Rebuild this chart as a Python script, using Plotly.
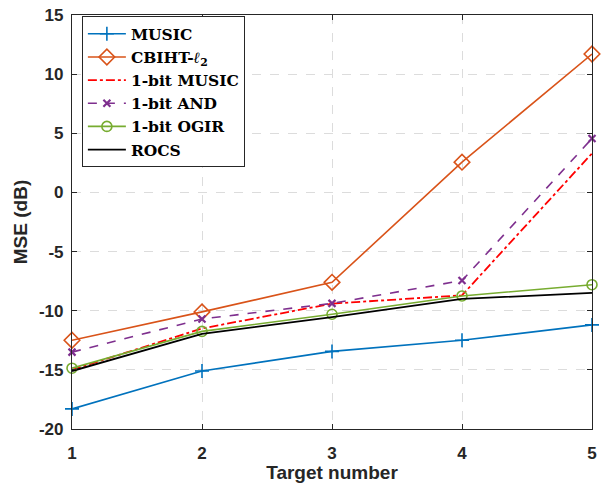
import plotly.graph_objects as go

x = [1, 2, 3, 4, 5]
music = [-18.3, -15.1, -13.44, -12.5, -11.2]
cbiht = [-12.5, -10.1, -7.6, 2.56, 11.7]
onebit_music = [-15.0, -11.5, -9.4, -8.7, 3.3]
onebit_and = [-13.5, -10.7, -9.38, -7.45, 4.56]
onebit_ogir = [-14.86, -11.75, -10.3, -8.75, -7.8]
rocs = [-15.1, -11.95, -10.55, -9.0, -8.5]

x_ticks = [1, 2, 3, 4, 5]
y_ticks = [-20, -15, -10, -5, 0, 5, 10, 15]

fig = go.Figure()
fig.add_trace(go.Scatter(x=x, y=music, name="MUSIC", mode="lines+markers",
                         line=dict(color="#0072BD", width=1.6),
                         marker=dict(symbol="cross-thin", size=10, line=dict(color="#0072BD", width=1.6))))
fig.add_trace(go.Scatter(x=x, y=cbiht, name="CBIHT-<i>ℓ</i><sub>2</sub>", mode="lines+markers",
                         line=dict(color="#D95319", width=1.6),
                         marker=dict(symbol="diamond-open", size=12, line=dict(color="#D95319", width=1.6))))
fig.add_trace(go.Scatter(x=x, y=onebit_music, name="1-bit MUSIC", mode="lines",
                         line=dict(color="#FF0000", width=1.8, dash="dashdot")))
fig.add_trace(go.Scatter(x=x, y=onebit_and, name="1-bit AND", mode="lines+markers",
                         line=dict(color="#7E2F8E", width=1.6, dash="dash"),
                         marker=dict(symbol="x-thin", size=7, line=dict(color="#7E2F8E", width=2.2))))
fig.add_trace(go.Scatter(x=x, y=onebit_ogir, name="1-bit OGIR", mode="lines+markers",
                         line=dict(color="#77AC30", width=1.6),
                         marker=dict(symbol="circle-open", size=10, line=dict(color="#77AC30", width=1.6))))
fig.add_trace(go.Scatter(x=x, y=rocs, name="ROCS", mode="lines",
                         line=dict(color="#000000", width=1.8)))

fig.update_traces(cliponaxis=False)

tick_font = dict(family="Liberation Sans, Arial", size=17, color="#262626", weight="bold")
title_font = dict(family="Liberation Sans, Arial", size=19, color="#262626", weight="bold")

axis_common = dict(
    showline=True, linecolor="#262626", linewidth=1.2, mirror="ticks",
    ticks="inside", ticklen=5, tickcolor="#262626",
    showgrid=True, gridcolor="#DCDCDC", griddash="dash", gridwidth=1,
    zeroline=False, tickfont=tick_font,
)

fig.update_xaxes(range=[1, 5], tickvals=x_ticks, ticktext=[str(v) for v in x_ticks],
                 ticklabelstandoff=8, **axis_common,
                 title=dict(text="Target number", standoff=1, font=title_font))
fig.update_yaxes(range=[-20, 15], tickvals=y_ticks, ticktext=[str(v) for v in y_ticks],
                 ticklabelstandoff=4, **axis_common,
                 title=dict(text="MSE (dB)", standoff=6, font=title_font))

fig.update_layout(
    width=603, height=494,
    margin=dict(l=72, r=6, t=11, b=65),
    paper_bgcolor="white", plot_bgcolor="white",
    showlegend=True,
    legend=dict(x=0.019, y=0.997, xanchor="left", yanchor="top",
                bgcolor="white", bordercolor="#262626", borderwidth=1,
                font=dict(family="DejaVu Serif", size=15.5, color="#000000", weight="bold"),
                tracegroupgap=0, itemwidth=38),
)

fig.write_html("out.html")
